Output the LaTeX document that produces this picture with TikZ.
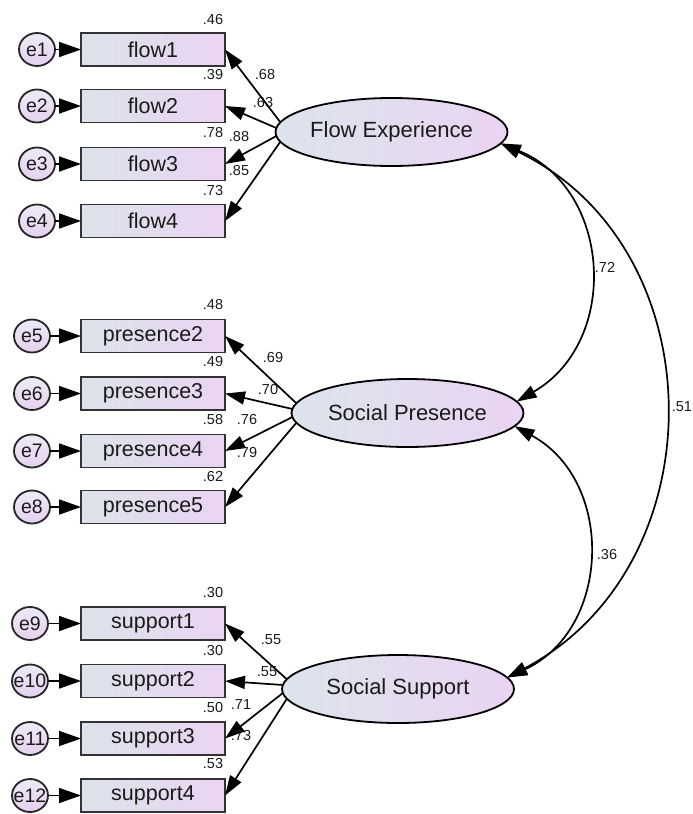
\documentclass[tikz,border=0pt]{standalone}
\usepackage{fontspec}
\setmainfont{Liberation Sans}
\usetikzlibrary{arrows.meta,shapes.geometric}

\definecolor{boxL}{HTML}{DCE3EA}
\definecolor{boxR}{HTML}{EAD4F2}
\definecolor{latL}{HTML}{DCE4EC}
\definecolor{latR}{HTML}{EAD4F2}
\definecolor{errT}{HTML}{EEEAF6}
\definecolor{errB}{HTML}{E6D0EF}
\definecolor{ink}{HTML}{1A1A1A}

\begin{document}
\begin{tikzpicture}[x=1pt,y=-1pt,
  every node/.style={inner sep=0pt, outer sep=0pt, text=ink},
  obs/.style={rectangle, draw=black!80, line width=1.8pt,
    minimum width=144pt, minimum height=33pt,
    left color=boxL, right color=boxR,
    font=\fontsize{21.5}{25}\selectfont},
  errtxt/.style={font=\fontsize{19.5}{22}\selectfont},
  err/.style={ellipse, draw=black!85, line width=1.8pt,
    minimum width=36pt, minimum height=33pt,
    top color=errT, bottom color=errB,
    label={[errtxt]center:#1}},
  lat/.style={ellipse, draw=black, line width=1.8pt,
    minimum width=232pt, minimum height=68pt,
    left color=latL, right color=latR,
    font=\fontsize{22}{26}\selectfont},
  num/.style={font=\fontsize{14.5}{17}\selectfont},
  load/.style={line width=1.7pt, -{Triangle[length=20pt,width=13pt]}},
  errarr/.style={line width=1.7pt, -{Triangle[length=22pt,width=15pt]}},
  cov/.style={line width=1.7pt,
    {Triangle[length=20pt,width=13pt]}-{Triangle[length=20pt,width=13pt]}},
]
\fill[white] (0,0) rectangle (693,814);
\useasboundingbox (0,0) rectangle (693,814);

% ---- latent variables
\node[lat] (FE) at (391.5,132) {Flow Experience};
\node[lat] (SP) at (407.5,413) {Social Presence};
\node[lat] (SS) at (398,689) {Social Support};

% ---- flow indicators
\node[obs] (flow1) at (153,49.5) {flow1};
\node[obs] (flow2) at (153,106)  {flow2};
\node[obs] (flow3) at (153,164)  {flow3};
\node[obs] (flow4) at (153,221)  {flow4};
\node[err=e1] (e1) at (37,49.5) {};
\node[err=e2] (e2) at (37,106)  {};
\node[err=e3] (e3) at (37,164)  {};
\node[err=e4] (e4) at (37,221)  {};

% ---- presence indicators
\node[obs] (pres2) at (153,336)   {presence2};
\node[obs] (pres3) at (153,393.5) {presence3};
\node[obs] (pres4) at (153,451)   {presence4};
\node[obs] (pres5) at (153,507)   {presence5};
\node[err=e5] (e5) at (32,336)   {};
\node[err=e6] (e6) at (32,393.5) {};
\node[err=e7] (e7) at (32,451)   {};
\node[err=e8] (e8) at (32,507)   {};

% ---- support indicators
\node[obs] (sup1) at (153,623.5) {support1};
\node[obs] (sup2) at (153,681)   {support2};
\node[obs] (sup3) at (153,738.5) {support3};
\node[obs] (sup4) at (153,795.5) {support4};
\node[err=e9]  (e9)  at (30,623.5) {};
\node[err=e10] (e10) at (30,681)   {};
\node[err=e11] (e11) at (30,738.5) {};
\node[err=e12] (e12) at (30,795.5) {};

% ---- error terms
\foreach \e/\v in {e1/flow1,e2/flow2,e3/flow3,e4/flow4,
                   e5/pres2,e6/pres3,e7/pres4,e8/pres5,
                   e9/sup1,e10/sup2,e11/sup3,e12/sup4}
  \draw[errarr] (\e) -- (\v.west);

% ---- loadings
\draw[load] (FE.175) -- (flow1.east);
\draw[load] (FE.178) -- (flow2.east);
\draw[load] (FE.182) -- (flow3.east);
\draw[load] (FE.185) -- (flow4.east);
\draw[load] (SP.175) -- (pres2.east);
\draw[load] (SP.178) -- (pres3.east);
\draw[load] (SP.182) -- (pres4.east);
\draw[load] (SP.185) -- (pres5.east);
\draw[load] (SS.175) -- (sup1.east);
\draw[load] (SS.178) -- (sup2.east);
\draw[load] (SS.182) -- (sup3.east);
\draw[load] (SS.185) -- (sup4.east);

% ---- covariances
\draw[cov] (FE.-6) .. controls +(111,45) and +(104,-60) .. (SP.6);
\draw[cov] (FE.-6) .. controls +(216,104) and +(212,-112) .. (SS.6);
\draw[cov] (SP.-7) .. controls +(101,55) and +(104,-48) .. (SS.6);
\node[num] (c1) at (605,267) {.72};
\node[num, anchor=east] (c2) at (692,407) {.51};
\node[num] (c3) at (607,555) {.36};

% ---- squared multiple correlations and loadings, flow
\node[num] (r1) at (213,20)  {.46};
\node[num] (r2) at (213,75)  {.39};
\node[num] (r3) at (213,133) {.78};
\node[num] (r4) at (213,191) {.73};
\node[num] (l1) at (265,75)  {.68};
\node[num] (l2) at (263,103) {.63};
\node[num] (l3) at (239,137) {.88};
\node[num] (l4) at (239,171) {.85};

% ---- presence
\node[num] (r5) at (213,305) {.48};
\node[num] (r6) at (213,362) {.49};
\node[num] (r7) at (213,420) {.58};
\node[num] (r8) at (213,477) {.62};
\node[num] (l5) at (273,358) {.69};
\node[num] (l6) at (268,390) {.70};
\node[num] (l7) at (247,420) {.76};
\node[num] (l8) at (247,453) {.79};

% ---- support
\node[num] (r9)  at (213,593) {.30};
\node[num] (r10) at (213,650) {.30};
\node[num] (r11) at (213,707) {.50};
\node[num] (r12) at (213,763) {.53};
\node[num] (l9)  at (271,640) {.55};
\node[num] (l10) at (267,672) {.55};
\node[num] (l11) at (241,705) {.71};
\node[num] (l12) at (241,735) {.73};
\end{tikzpicture}
\end{document}
